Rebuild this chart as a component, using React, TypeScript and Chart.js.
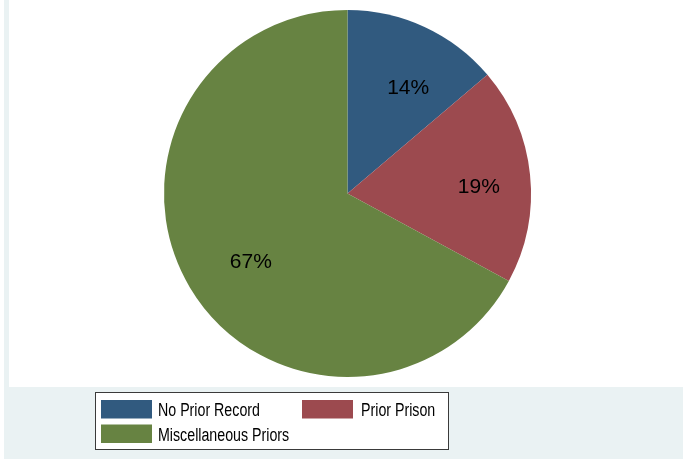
import React, { useEffect, useRef } from "react";
import { Chart, registerables } from "chart.js";

Chart.register(...registerables);

const categories = ["No Prior Record", "Prior Prison", "Miscellaneous Priors"];
const shares = [13.8, 19.1, 67.1];
const sliceColors = ["#315A7F", "#9C4A4F", "#678342"];

const W = 683;
const H = 459;

const backgroundPlugin = {
  id: "stataBackground",
  beforeDraw(chart: any) {
    const ctx = chart.ctx;
    ctx.save();
    ctx.fillStyle = "#FFFFFF";
    ctx.fillRect(0, 0, W, H);
    ctx.fillStyle = "#EAF2F3";
    ctx.fillRect(4, 0, W - 4, H);
    ctx.fillStyle = "#FFFFFF";
    ctx.fillRect(9, 0, W - 9, 387);
    ctx.restore();
  },
};

const labelPlugin = {
  id: "sliceLabels",
  afterDatasetsDraw(chart: any) {
    const ctx = chart.ctx;
    const meta = chart.getDatasetMeta(0);
    const ds = chart.data.datasets[0].data as number[];
    const total = ds.reduce((a, b) => a + b, 0);
    ctx.save();
    ctx.fillStyle = "#000000";
    ctx.font = "21px 'Liberation Sans', Arial, sans-serif";
    ctx.textAlign = "center";
    ctx.textBaseline = "middle";
    meta.data.forEach((arc: any, i: number) => {
      const p = arc.getProps(["x", "y", "startAngle", "endAngle", "outerRadius"], true);
      const mid = (p.startAngle + p.endAngle) / 2;
      const r = p.outerRadius * 0.67;
      const x = p.x + Math.cos(mid) * r + 9;
      const y = p.y + Math.sin(mid) * r + 6;
      ctx.fillText(Math.round((ds[i] / total) * 100) + "%", x, y);
    });
    ctx.restore();
  },
};

const legendPlugin = {
  id: "stataLegend",
  afterDraw(chart: any) {
    const ctx = chart.ctx;
    const labels = chart.data.labels as string[];
    const colors = chart.data.datasets[0].backgroundColor as string[];
    ctx.save();
    ctx.fillStyle = "#FFFFFF";
    ctx.fillRect(95, 392, 353, 57);
    ctx.strokeStyle = "#3A3A3A";
    ctx.lineWidth = 1;
    ctx.strokeRect(95.5, 392.5, 353, 57);
    const cols = [101, 302];
    const textCols = [158, 361];
    const rows = [400, 424.5];
    ctx.font = "18px 'Liberation Sans', Arial, sans-serif";
    ctx.textBaseline = "middle";
    ctx.textAlign = "left";
    const sx = 0.79;
    labels.forEach((lab, i) => {
      const cx = cols[i % 2];
      const cy = rows[Math.floor(i / 2)];
      ctx.fillStyle = colors[i];
      ctx.fillRect(cx, cy, 51, 18.5);
      ctx.fillStyle = "#000000";
      ctx.save();
      ctx.translate(textCols[i % 2], cy + 11.5);
      ctx.scale(sx, 1);
      ctx.fillText(lab, 0, 0);
      ctx.restore();
    });
    ctx.restore();
  },
};

export default function App() {
  const ref = useRef<HTMLCanvasElement | null>(null);

  useEffect(() => {
    document.body.style.margin = "0";
    if (!ref.current) return;
    const chart = new Chart(ref.current, {
      type: "pie",
      data: {
        labels: categories,
        datasets: [
          {
            data: shares,
            backgroundColor: sliceColors,
            borderWidth: 0,
          },
        ],
      },
      options: {
        animation: false,
        responsive: false,
        devicePixelRatio: 1,
        layout: { padding: { top: 10, bottom: 82, left: 164, right: 152 } },
        plugins: {
          legend: { display: false },
          tooltip: { enabled: false },
        },
      },
      plugins: [backgroundPlugin, labelPlugin, legendPlugin],
    });
    return () => chart.destroy();
  }, []);

  return (
    <div style={{ position: "absolute", left: 0, top: 0, width: W, height: H }}>
      <canvas ref={ref} width={W} height={H} style={{ width: W, height: H, display: "block" }} />
    </div>
  );
}
